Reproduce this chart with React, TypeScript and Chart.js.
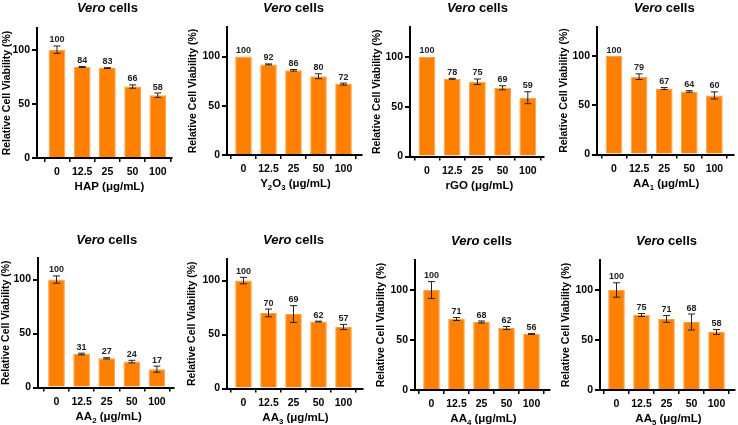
import React, { useEffect, useRef } from "react";
import { Chart, registerables } from "chart.js";

Chart.register(...registerables);
Chart.defaults.font.family = '"Liberation Sans", Arial, Helvetica, sans-serif';

// Doses tested (µg/mL) and y-axis tick values
const doses = ["0", "12.5", "25", "50", "100"];
const yTickValues = [0, 50, 100];

// Relative cell viability (%) of Vero cells, mean and SD per dose
const hapMean = [100, 84, 83, 66, 58];
const hapSd = [3.4, 0.5, 0.4, 1.5, 2.0];
const y2o3Mean = [100, 92, 86, 80, 72];
const y2o3Sd = [0, 0.5, 0.8, 2.5, 1.0];
const rgoMean = [100, 78, 75, 69, 59];
const rgoSd = [0, 0.5, 2.8, 2.0, 6.0];
const aa1Mean = [100, 79, 67, 64, 60];
const aa1Sd = [0, 2.9, 1.0, 0.8, 3.6];
const aa2Mean = [100, 31, 27, 24, 17];
const aa2Sd = [3.4, 0.8, 0.6, 1.2, 2.8];
const aa3Mean = [100, 70, 69, 62, 57];
const aa3Sd = [3.0, 3.6, 7.8, 0.4, 2.4];
const aa4Mean = [100, 71, 68, 62, 56];
const aa4Sd = [8.4, 1.5, 1.0, 1.5, 0.4];
const aa5Mean = [100, 75, 71, 68, 58];
const aa5Sd = [7.2, 1.5, 3.4, 8.0, 2.4];

// Axis labels; "_n" marks a subscript digit
const xAxisLabels = [
  "HAP (μg/mL)",
  "Y_2O_3 (μg/mL)",
  "rGO (μg/mL)",
  "AA_1 (μg/mL)",
  "AA_2 (μg/mL)",
  "AA_3 (μg/mL)",
  "AA_4 (μg/mL)",
  "AA_5 (μg/mL)",
];
const yAxisLabel = "Relative Cell Viability (%)";
const yMaxes = [120, 130, 130, 130, 120, 120, 130, 130];

const means = [hapMean, y2o3Mean, rgoMean, aa1Mean, aa2Mean, aa3Mean, aa4Mean, aa5Mean];
const sds = [hapSd, y2o3Sd, rgoSd, aa1Sd, aa2Sd, aa3Sd, aa4Sd, aa5Sd];

const W = 738;
const H = 425;
const BAR_COLOR = "#FF8000";
const FONT = '"Liberation Sans", Arial, Helvetica, sans-serif';

// Page layout of each panel: canvas box, plot frame and label rows (page px)
type Layout = {
  box: [number, number, number, number];
  axisX: number;
  top: number;
  base: number;
  right: number;
  bar0: number;
  step: number;
  titleY: number;
  yTitleX: number;
};

const layouts: Layout[] = [
  { box: [0, 0, 185, 212], axisX: 37, top: 28, base: 158, right: 172, bar0: 57, step: 25.2, titleY: 7, yTitleX: 7 },
  { box: [185, 0, 185, 212], axisX: 227, top: 27, base: 155, right: 362, bar0: 243.5, step: 25, titleY: 7, yTitleX: 193 },
  { box: [370, 0, 185, 212], axisX: 410, top: 27, base: 156.5, right: 544, bar0: 427, step: 25.2, titleY: 7, yTitleX: 377.5 },
  { box: [555, 0, 183, 212], axisX: 597, top: 26.5, base: 154.5, right: 734, bar0: 614, step: 25.1, titleY: 7, yTitleX: 564 },
  { box: [0, 212, 185, 213], axisX: 38, top: 258, base: 387.5, right: 174, bar0: 56.5, step: 25.1, titleY: 239, yTitleX: 6.5 },
  { box: [185, 212, 185, 213], axisX: 227, top: 259, base: 388.5, right: 363, bar0: 243.5, step: 25, titleY: 239, yTitleX: 192.5 },
  { box: [370, 212, 185, 213], axisX: 415, top: 260, base: 390, right: 550, bar0: 431.5, step: 25, titleY: 240, yTitleX: 381 },
  { box: [555, 212, 183, 213], axisX: 600, top: 260, base: 390, right: 735, bar0: 616.5, step: 25, titleY: 240, yTitleX: 566 },
];

type Run = { t: string; sub?: boolean; italic?: boolean };

function parseLabel(label: string): Run[] {
  const runs: Run[] = [];
  const parts = label.split(/_(\d)/);
  parts.forEach((p, i) => {
    if (!p) return;
    runs.push({ t: p, sub: i % 2 === 1 });
  });
  return runs;
}

function drawRuns(ctx: CanvasRenderingContext2D, runs: Run[], cx: number, cy: number, size: number) {
  const fontFor = (r: Run) =>
    `${r.italic ? "italic " : ""}bold ${r.sub ? size * 0.68 : size}px ${FONT}`;
  let total = 0;
  const widths = runs.map((r) => {
    ctx.font = fontFor(r);
    const w = ctx.measureText(r.t).width;
    total += w;
    return w;
  });
  let x = cx - total / 2;
  const baseline = cy + size * 0.36;
  ctx.textAlign = "left";
  ctx.textBaseline = "alphabetic";
  runs.forEach((r, i) => {
    ctx.font = fontFor(r);
    ctx.fillText(r.t, x, baseline + (r.sub ? size * 0.26 : 0));
    x += widths[i];
  });
}

function Panel({ index }: { index: number }) {
  const ref = useRef<HTMLCanvasElement | null>(null);
  const L = layouts[index];
  const [bx, by, bw, bh] = L.box;

  useEffect(() => {
    if (!ref.current) return;
    const mean = means[index];
    const sd = sds[index];
    const xMin = -(L.bar0 - L.axisX) / L.step;
    const bar4 = L.bar0 + 4 * L.step;
    const xMax = 4 + (L.right - bar4) / L.step;
    const yWidth = L.axisX - bx;
    const xHeight = by + bh - L.base;

    const decor = {
      id: "panelDecor" + index,
      afterDatasetsDraw(chart: any) {
        const ctx: CanvasRenderingContext2D = chart.ctx;
        const meta = chart.getDatasetMeta(0);
        const ys = chart.scales.y;
        ctx.save();
        ctx.strokeStyle = "#222";
        ctx.lineWidth = 1;
        meta.data.forEach((bar: any, i: number) => {
          const v = mean[i];
          const s = sd[i];
          const x = bar.x;
          const hi = ys.getPixelForValue(v + s);
          const lo = ys.getPixelForValue(v - s);
          if (s > 0) {
            ctx.beginPath();
            ctx.moveTo(x, hi);
            ctx.lineTo(x, lo);
            ctx.moveTo(x - 3.5, hi);
            ctx.lineTo(x + 3.5, hi);
            ctx.moveTo(x - 3.5, lo);
            ctx.lineTo(x + 3.5, lo);
            ctx.stroke();
          }
          ctx.fillStyle = "#222";
          ctx.font = `bold 9px ${FONT}`;
          ctx.textAlign = "center";
          ctx.textBaseline = "alphabetic";
          ctx.fillText(String(v), x, hi - 3.5);
        });
        ctx.restore();
      },
      afterDraw(chart: any) {
        const ctx: CanvasRenderingContext2D = chart.ctx;
        const xs = chart.scales.x;
        const mid = xs.getPixelForValue(2);
        ctx.save();
        ctx.fillStyle = "#000";
        drawRuns(ctx, [{ t: "Vero", italic: true }, { t: " cells" }], mid, L.titleY - by, 13);
        drawRuns(ctx, parseLabel(xAxisLabels[index]), mid + 2, L.base - by + 28, 11.5);
        ctx.restore();
      },
    };

    const chart = new Chart(ref.current, {
      type: "bar",
      data: {
        datasets: [
          {
            data: mean.map((v, i) => ({ x: i, y: v })),
            backgroundColor: BAR_COLOR,
            borderColor: "#FFA040",
            borderWidth: 1,
            categoryPercentage: 1,
            barPercentage: 0.665,
          },
        ],
      },
      options: {
        responsive: false,
        animation: false,
        events: [],
        layout: { padding: { left: 0, top: L.top - by, right: bx + bw - L.right, bottom: 0 } },
        plugins: { legend: { display: false }, tooltip: { enabled: false }, title: { display: false } },
        scales: {
          x: {
            type: "linear",
            min: xMin,
            max: xMax,
            offset: false,
            grid: { display: true, drawOnChartArea: false, drawTicks: true, tickLength: 4, color: "#000", lineWidth: 1.5 },
            border: { display: true, color: "#000", width: 2 },
            ticks: {
              color: "#000",
              font: { size: 10.5, weight: "bold" },
              padding: 4,
              autoSkip: false,
              maxRotation: 0,
              callback: (v: any) => doses[v] ?? "",
            },
            afterBuildTicks: (s: any) => {
              s.ticks = doses.map((_, i) => ({ value: i }));
            },
            afterFit: (s: any) => {
              s.height = xHeight;
            },
          },
          y: {
            type: "linear",
            min: 0,
            max: yMaxes[index],
            grid: { display: true, drawOnChartArea: false, drawTicks: true, tickLength: 5, color: "#000", lineWidth: 2 },
            border: { display: true, color: "#000", width: 2 },
            ticks: { color: "#000", font: { size: 10.5, weight: "bold" }, padding: 2 },
            afterBuildTicks: (s: any) => {
              s.ticks = yTickValues.map((v) => ({ value: v }));
            },
            afterFit: (s: any) => {
              s.width = yWidth;
            },
            title: {
              display: true,
              text: yAxisLabel,
              color: "#000",
              font: { size: 10.5, weight: "bold" },
              padding: { top: Math.max(0, L.yTitleX - bx - 6.3), bottom: 0 },
            },
          },
        },
      } as any,
      plugins: [decor],
    });
    return () => chart.destroy();
  }, []);

  return (
    <canvas
      ref={ref}
      width={bw}
      height={bh}
      style={{ position: "absolute", left: bx, top: by, width: bw, height: bh }}
    />
  );
}

export default function App() {
  return (
    <div style={{ position: "fixed", left: 0, top: 0, width: W, height: H, background: "#fff", overflow: "hidden" }}>
      {layouts.map((_, i) => (
        <Panel key={i} index={i} />
      ))}
    </div>
  );
}
